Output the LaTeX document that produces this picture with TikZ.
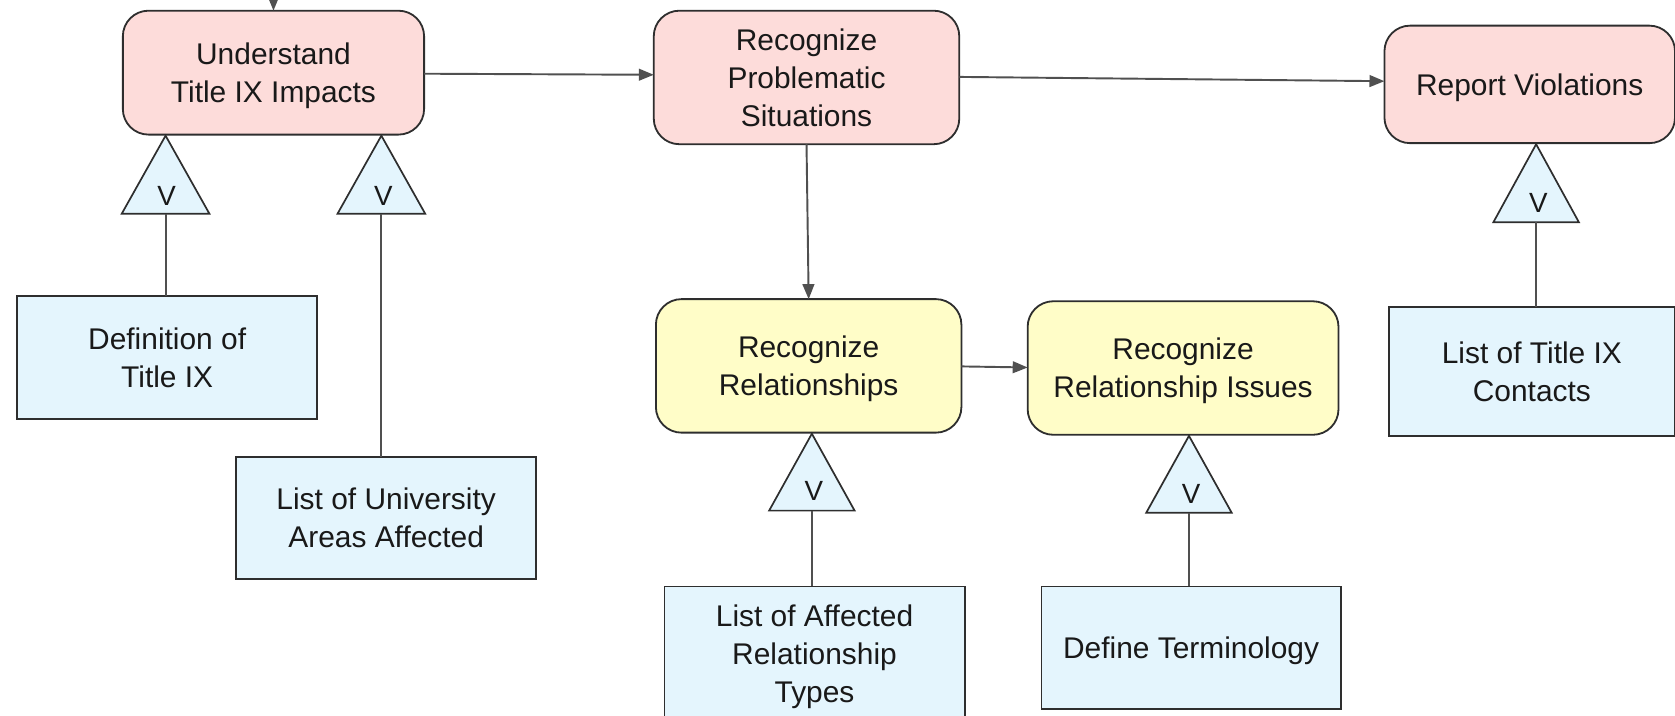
\documentclass[tikz,border=0pt]{standalone}
\usepackage{fontspec}
\setmainfont{Liberation Sans}
\usetikzlibrary{arrows.meta}
\definecolor{pinkfill}{HTML}{FDDCDA}
\definecolor{yelfill}{HTML}{FFFDC8}
\definecolor{bluefill}{HTML}{E4F5FD}
\definecolor{edge}{HTML}{2E2E2E}
\definecolor{conn}{HTML}{505050}
\tikzset{
  goal/.style={draw=edge, line width=1.7pt, rounded corners=24pt, align=center, inner sep=0pt, outer sep=0pt, text depth=0pt, font=\fontsize{28}{35.5}\selectfont, text=black!90},
  pinkgoal/.style={goal, fill=pinkfill},
  yelgoal/.style={goal, fill=yelfill},
  res/.style={draw=edge, line width=1.7pt, fill=bluefill, align=center, inner sep=0pt, outer sep=0pt, text depth=0pt, font=\fontsize{28}{35.5}\selectfont, text=black!90},
  tri/.style={draw=edge, line width=1.6pt, fill=bluefill},
  vlab/.style={font=\fontsize{26}{30}\selectfont, text=black!90, inner sep=0pt},
  arr/.style={draw=conn, line width=1.8pt, -{Triangle[length=14pt,width=11pt]}},
  lnk/.style={draw=conn, line width=1.8pt},
}
\begin{document}
\begin{tikzpicture}[x=1pt,y=-1pt]
\useasboundingbox (0,0) rectangle (1568,670);
% goals
\node[pinkgoal, minimum width=282pt, minimum height=116pt] (und) at (256,68) {Understand\\Title IX Impacts};
\node[pinkgoal, minimum width=286pt, minimum height=125pt] (prob) at (755,72.5) {Recognize\\Problematic\\Situations};
\node[pinkgoal, minimum width=272pt, minimum height=110pt] (rep) at (1432,79) {Report Violations};
\node[yelgoal, minimum width=286pt, minimum height=125pt] (rel) at (757,342.5) {Recognize\\Relationships};
\node[yelgoal, minimum width=291pt, minimum height=125pt] (iss) at (1107.5,344.5) {Recognize\\Relationship Issues};
% resources
\node[res, minimum width=281pt, minimum height=115pt] (def) at (156.5,334.5) {Definition of\\Title IX};
\node[res, minimum width=281pt, minimum height=114pt] (uni) at (361.5,485) {List of University\\Areas Affected};
\node[res, minimum width=281pt, minimum height=126pt] (typ) at (762.5,612) {List of Affected\\Relationship\\Types};
\node[res, minimum width=280pt, minimum height=115pt] (ter) at (1115,606.5) {Define Terminology};
\node[res, minimum width=268pt, minimum height=121pt] (con) at (1434,347.5) {List of Title IX\\Contacts};
% triangles
\draw[tri] (155,127) -- (196,200) -- (114,200) -- cycle;
\node[vlab] (v1) at (156,183) {V};
\coordinate (b1) at (155,200);
\draw[tri] (357,127) -- (398,200) -- (316,200) -- cycle;
\node[vlab] (v2) at (359,183) {V};
\coordinate (b2) at (357,200);
\draw[tri] (760,406) -- (800,478) -- (720,478) -- cycle;
\node[vlab] (v3) at (762,460) {V};
\coordinate (b3) at (760,478);
\draw[tri] (1113,408) -- (1153,480) -- (1073,480) -- cycle;
\node[vlab] (v4) at (1115,462) {V};
\coordinate (b4) at (1113,480);
\draw[tri] (1438,135) -- (1478,208) -- (1398,208) -- cycle;
\node[vlab] (v5) at (1440,190) {V};
\coordinate (b5) at (1438,208);
% triangle links
\draw[lnk] (b1) -- (b1 |- def.north);
\draw[lnk] (b2) -- (b2 |- uni.north);
\draw[lnk] (b3) -- (b3 |- typ.north);
\draw[lnk] (b4) -- (b4 |- ter.north);
\draw[lnk] (b5) -- (b5 |- con.north);
% arrows
\coordinate (topin) at (256,-6);
\draw[arr] (topin) -- (und.north);
\draw[arr] (und.east |- 0,69) -- (prob.west |- 0,70);
\draw[arr] (prob.east |- 0,72) -- (rep.west |- 0,76);
\draw[arr] (prob.south) -- (rel.north);
\draw[arr] (rel.east |- 0,343) -- (iss.west |- 0,344);
\end{tikzpicture}
\end{document}
